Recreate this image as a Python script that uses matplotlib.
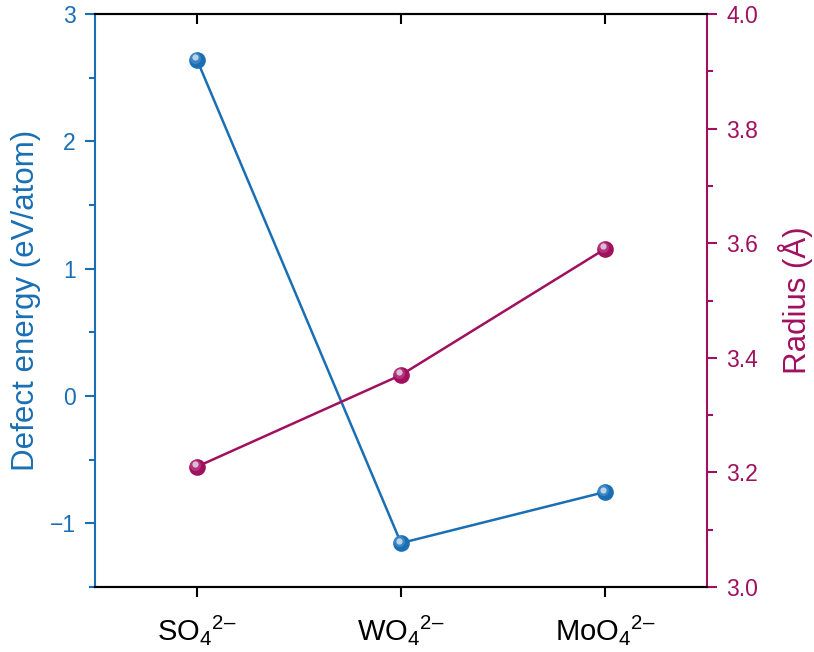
import matplotlib
matplotlib.use("Agg")
import matplotlib.pyplot as plt
import matplotlib.transforms as mtransforms
from matplotlib.ticker import MultipleLocator

plt.rcParams['font.family'] = ['Liberation Sans', 'DejaVu Sans']
plt.rcParams['mathtext.fontset'] = 'custom'
plt.rcParams['mathtext.rm'] = 'Liberation Sans'
plt.rcParams['mathtext.it'] = 'Liberation Sans:italic'

categories = ["SO$_4$$^{2\u2013}$", "WO$_4$$^{2\u2013}$", "MoO$_4$$^{2\u2013}$"]
defect_energy = [2.64, -1.155, -0.754]
radius = [3.21, 3.37, 3.59]

blue = '#1A6FB4'
crimson = '#A0105F'
x = list(range(len(categories)))

fig = plt.figure(figsize=(8.14, 6.52), dpi=100)
ax = fig.add_axes([95/814, 1 - 587/652, (707-95)/814, (587-14)/652])
ax2 = ax.twinx()


def spheres(a, xs, ys, color, light):
    a.plot(xs, ys, '-', color=color, lw=1.8, zorder=2)
    a.plot(xs, ys, 'o', color=color, ms=12, mec='none', zorder=3)
    # fake shading: lighter smaller dots shifted to the upper left
    for k, (ms, c) in enumerate([(8, light), (4.5, '#e8eef5')]):
        tr = mtransforms.offset_copy(a.transData, fig=fig, x=-1.2 - k*0.6, y=1.2 + k*0.6, units='points')
        a.plot(xs, ys, 'o', color=c, ms=ms, mec='none', alpha=0.5 + 0.25*k, transform=tr, zorder=4)


spheres(ax, x, defect_energy, blue, '#5b9bd0')
spheres(ax2, x, radius, crimson, '#c7559a')

ax.set_xlim(-0.5, 2.5)
ax.set_ylim(-1.5, 3)
ax2.set_ylim(3.0, 4.0)

ax.set_xticks(x)
ax.set_xticklabels(categories, fontsize=21)
ax.yaxis.set_major_locator(MultipleLocator(1))
ax.yaxis.set_minor_locator(MultipleLocator(0.5))
ax2.yaxis.set_major_locator(MultipleLocator(0.2))
ax2.yaxis.set_minor_locator(MultipleLocator(0.1))
ax2.set_yticks(ax2.get_yticks())
ax2.set_yticklabels([f"{v:.1f}" for v in ax2.get_yticks()])
ax2.set_ylim(3.0, 4.0)

for a in (ax, ax2):
    for s in a.spines.values():
        s.set_linewidth(1.5)
ax.spines['left'].set_color(blue)
ax2.spines['left'].set_visible(False)
ax.spines['right'].set_visible(False)
ax2.spines['right'].set_color(crimson)

ax.tick_params(axis='x', which='major', length=7, width=1.5, top=True, bottom=True, pad=12)
ax.tick_params(axis='x', which='minor', bottom=False, top=False)
for t in ax.xaxis.get_major_ticks():
    t.tick1line.set_marker(matplotlib.lines.TICKDOWN)
    t.tick2line.set_marker(matplotlib.lines.TICKDOWN)
ax.tick_params(axis='y', which='major', direction='out', length=7, width=1.5, colors=blue, labelsize=16.5, pad=7)
ax.tick_params(axis='y', which='minor', direction='out', length=4, width=1.5, colors=blue)
ax2.tick_params(axis='y', which='major', direction='out', length=7, width=1.5, colors=crimson, labelsize=16.5, pad=7)
ax2.tick_params(axis='y', which='minor', direction='out', length=4, width=1.5, colors=crimson)

ax.set_ylabel("Defect energy (eV/atom)", color=blue, fontsize=22.5, labelpad=6)
ax2.set_ylabel("Radius (Å)", color=crimson, fontsize=22.5, labelpad=14)

fig.savefig("out.png", dpi=100)
